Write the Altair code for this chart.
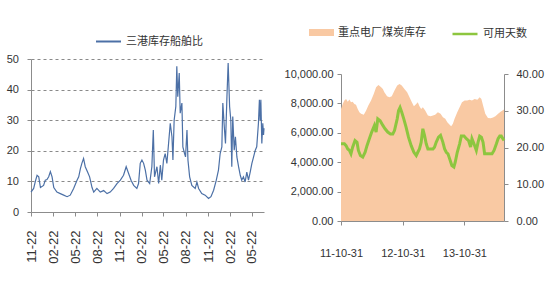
import altair as alt
import pandas as pd

# ---------------- data ----------------
# Left panel: 三港库存船舶比 (day offsets from the first date, values)
ratio_start = "2011-11-22"
ratio_days = [0, 11, 18, 25, 32, 39, 52, 59, 66, 73,
              80, 87, 94, 107, 121, 135, 149, 162, 176, 190,
              197, 204, 210, 217, 224, 234, 242, 252, 259, 272,
              286, 300, 314, 327, 341, 355, 369, 382, 393, 403,
              413, 424, 437, 444, 451, 458, 465, 472, 479, 490,
              499, 505, 510, 520, 527, 534, 540, 547, 554, 561,
              568, 575, 582, 586, 591, 598, 602, 606, 612, 616,
              623, 627, 634, 638, 644, 648, 655, 664, 678, 685,
              692, 705, 719, 733, 743, 754, 765, 774, 781, 788,
              792, 798, 803, 809, 814, 820, 825, 829, 833, 839,
              844, 850, 857, 864, 870, 877, 884, 891, 898, 905,
              912, 919, 926, 932, 939, 943, 946, 949, 953, 957,
              960, 962]
ratio_values = [6.5, 7.7, 10, 12, 11.5, 8, 8.7, 10.4, 10.6, 11.5,
                13.2, 11.5, 8, 6.5, 6, 5.5, 5, 5.5, 7.7, 10.4,
                11.5, 14.2, 15.9, 17.5, 14.8, 13, 11.5, 8, 6.5, 7.7,
                6.5, 7, 6, 6.5, 7.7, 9.3, 10.4, 12, 14.8, 12.6,
                10.4, 8.7, 7.7, 9.3, 15.9, 17, 15.9, 13.7, 10.4, 9.3,
                14.8, 26.8, 11.5, 14.8, 9.3, 15.3, 10.4, 17, 19.1, 15.9,
                22.4, 29, 24.6, 17, 30, 34.5, 47.6, 37.7, 45.4, 32.3,
                35.6, 21.3, 19.1, 18, 26.8, 17, 11.5, 8.7, 7.7, 9.8,
                7.7, 6, 5.5, 4.4, 5, 7.1, 10.4, 13.7, 19.1, 21.3,
                35.6, 27.9, 22.4, 37.7, 48.7, 34.5, 30, 14.8, 31.2, 20.2,
                24.6, 18, 14.8, 12, 10.4, 11.5, 9.8, 13, 10.4, 13,
                15.9, 18, 20.2, 21.3, 29, 36.7, 30, 36.7, 22.4, 29,
                25.2, 27.4]
ratio_name = "三港库存船舶比"
left_ticks = ["2011-11-22", "2012-02-22", "2012-05-22", "2012-08-22",
              "2012-11-22", "2013-02-22", "2013-05-22", "2013-08-22",
              "2013-11-22", "2014-02-22", "2014-05-22"]
left_domain = ["2011-11-22", "2014-07-11"]

# Right panel: 重点电厂煤炭库存 (area, left axis) and 可用天数 (line, right axis)
right_start = "2011-10-31"
stock_name = "重点电厂煤炭库存"
stock_days = [0, 10, 20, 30, 40, 50, 59, 69, 79, 89,
              99, 109, 119, 135, 149, 162, 178, 194, 208, 222,
              238, 248, 257, 273, 287, 301, 317, 333, 347, 360,
              376, 392, 406, 420, 432, 446, 455, 465, 475, 485,
              499, 515, 531, 545, 558, 574, 590, 604, 618, 630,
              644, 653, 663, 673, 689, 703, 717, 733, 748, 762,
              776, 792, 808, 822, 832, 842, 855, 871, 887, 901,
              915, 931, 946, 966]
stock_values = [7620, 7960, 8190, 8300, 8120, 8260, 8080, 8120, 7960, 7900,
                7620, 7400, 7290, 7220, 7510, 7850, 8190, 8640, 9100, 9250,
                9100, 8980, 8760, 8480, 8420, 8480, 8870, 9210, 9320, 9210,
                8980, 8760, 8420, 8080, 7810, 7960, 8080, 7810, 7620, 7740,
                7510, 7170, 7130, 7170, 7220, 7400, 7290, 7060, 6950, 6720,
                6540, 6450, 6610, 6950, 7400, 7740, 8080, 8190, 8190, 8240,
                8190, 8300, 8240, 8420, 8300, 7850, 7290, 7010, 6990, 7040,
                7130, 7290, 7440, 7580]
days_name = "可用天数"
avail_days = [0, 20, 30, 40, 50, 59, 69, 83, 95, 103,
              115, 129, 143, 154, 168, 182, 198, 208, 218, 232,
              248, 261, 277, 293, 307, 317, 333, 341, 350, 360,
              372, 386, 400, 416, 432, 446, 455, 465, 475, 485,
              495, 505, 515, 531, 545, 554, 564, 578, 590, 604,
              614, 624, 634, 644, 657, 669, 677, 689, 703, 713,
              729, 743, 756, 768, 776, 788, 802, 812, 822, 832,
              842, 851, 861, 881, 895, 907, 921, 931, 941, 950,
              966]
avail_values = [21, 21, 20.5, 19.6, 19.2, 18.3, 20.1, 21.9, 21.4, 19.2,
                17.8, 17.4, 18.7, 20.5, 22.4, 24.2, 26, 24.2, 27.8, 27.3,
                26, 25.1, 24.2, 23.7, 23.7, 24.6, 27.8, 30, 30.9, 29.6,
                27.8, 25.5, 22.8, 20.5, 18.7, 17.8, 18.7, 19.6, 21.4, 25.1,
                23.3, 21, 19.6, 19.6, 19.6, 20.1, 21.4, 22.8, 23.3, 21.4,
                19.6, 18.7, 18.3, 16.9, 15.1, 14.7, 16, 18.7, 21, 23.1,
                23.1, 22.4, 21.9, 20.1, 22.4, 21, 19.2, 21.4, 23.1, 22.8,
                21.4, 18.3, 18.3, 18.3, 18.3, 19.2, 21, 22.4, 23.1, 23.1,
                21.9]
right_ticks = ["2011-10-31", "2012-10-31", "2013-10-31"]
right_domain = ["2011-10-31", "2014-06-23"]


def dates(start, offsets):
    return list((pd.Timestamp(start) + pd.to_timedelta(offsets, unit="D")).strftime("%Y-%m-%d"))


def dt(s):
    y, m, d = (int(p) for p in s.split("-"))
    return alt.DateTime(year=y, month=m, date=d, utc=True)


left_df = pd.DataFrame({"date": dates(ratio_start, ratio_days), "value": ratio_values})
stock_df = pd.DataFrame({"date": dates(right_start, stock_days), "value": stock_values})
avail_df = pd.DataFrame({"date": dates(right_start, avail_days), "value": avail_values})

# ---------------- style ----------------
CJK = "Noto Sans CJK SC"
REG = "Liberation Sans, Arial"
TXT = "#333333"
AX = "#8c8c8c"
BLUE = "#4c70a6"
PEACH = "#f9c9a3"
GREEN = "#8dc63f"

# ---------------- left chart ----------------
left = alt.Chart(left_df).mark_line(strokeWidth=1.2, interpolate="linear").encode(
    x=alt.X("date:T",
            scale=alt.Scale(type="utc", domain=[dt(s) for s in left_domain]),
            axis=alt.Axis(title=None, values=[dt(s) for s in left_ticks],
                          labelExpr="utcFormat(datum.value, '%m-%d')",
                          labelAngle=270, labelFont=REG, labelFontSize=13,
                          labelColor=TXT, labelPadding=14, tickSize=4, tickColor=AX,
                          domainColor=AX, grid=False, labelOverlap=False, labelFlush=False)),
    y=alt.Y("value:Q",
            scale=alt.Scale(domain=[0, 50], nice=False),
            axis=alt.Axis(title=None, values=[0, 10, 20, 30, 40, 50], labelFont=REG,
                          labelFontSize=11, labelColor=TXT, labelPadding=8.5, tickSize=4,
                          tickColor=AX, domainColor=AX, grid=True, gridColor="#8a8a8a",
                          gridDash=[3, 3], gridWidth=1)),
    stroke=alt.Stroke("series:N",
                      scale=alt.Scale(domain=[ratio_name], range=[BLUE]),
                      legend=alt.Legend(title=None, orient="none", legendX=64, legendY=-31,
                                        padding=0, symbolType="stroke", symbolSize=625,
                                        symbolStrokeWidth=2, labelFont=CJK, labelFontSize=11,
                                        labelColor=TXT, labelOffset=4)),
).transform_calculate(series=f"'{ratio_name}'").properties(width=233, height=153)

# ---------------- right chart ----------------
x_right = alt.X("date:T",
                scale=alt.Scale(type="utc", domain=[dt(s) for s in right_domain]),
                axis=alt.Axis(title=None, values=[dt(s) for s in right_ticks],
                              labelExpr="utcFormat(datum.value, '%y-%m-%d')",
                              labelAngle=0, labelFont=REG, labelFontSize=11,
                              labelColor=TXT, labelPadding=22, tickSize=4, tickColor=AX,
                              domainColor=AX, grid=False, labelOverlap=False, labelFlush=False))

# legends of the right panel are positioned from the top of its column (left plot top)
area = alt.Chart(stock_df).mark_area(opacity=1, interpolate="linear").encode(
    x=x_right,
    y=alt.Y("value:Q",
            scale=alt.Scale(domain=[0, 10000], nice=False),
            axis=alt.Axis(title=None, orient="left", values=[0, 2000, 4000, 6000, 8000, 10000],
                          format=",.2f", labelFont=REG, labelFontSize=11, labelColor=TXT,
                          labelPadding=4, tickSize=4, tickColor=AX, domainColor=AX, grid=False)),
    fill=alt.Fill("series:N",
                  scale=alt.Scale(domain=[stock_name], range=[PEACH]),
                  legend=alt.Legend(title=None, orient="none", legendX=-32, legendY=-39,
                                    padding=0, symbolType="M-1,-0.28L1,-0.28L1,0.28L-1,0.28Z",
                                    symbolSize=625, symbolStrokeWidth=0, symbolOpacity=1,
                                    labelFont=CJK, labelFontSize=11, labelColor=TXT,
                                    labelOffset=4)),
).transform_calculate(series=f"'{stock_name}'")

line = alt.Chart(avail_df).mark_line(strokeWidth=3, interpolate="linear").encode(
    x=x_right,
    y=alt.Y("value:Q",
            scale=alt.Scale(domain=[0, 40], nice=False),
            axis=alt.Axis(title=None, orient="right", values=[0, 10, 20, 30, 40],
                          format=".2f", labelFont=REG, labelFontSize=11, labelColor=TXT,
                          labelPadding=8, tickSize=4, tickColor=AX, domainColor=AX, grid=False)),
    stroke=alt.Stroke("series:N",
                      scale=alt.Scale(domain=[days_name], range=[GREEN]),
                      legend=alt.Legend(title=None, orient="none", legendX=110, legendY=-39,
                                        padding=0, symbolType="stroke", symbolSize=625,
                                        symbolStrokeWidth=2.5, labelFont=CJK, labelFontSize=11,
                                        labelColor=TXT, labelOffset=4)),
).transform_calculate(series=f"'{days_name}'")

right = alt.layer(area, line).resolve_scale(y="independent").properties(width=163, height=147)

# empty strip above the right panel so its plot sits lower than the left one
spacer = alt.Chart(avail_df).mark_point(opacity=0, size=0).encode(
    x=alt.value(0), y=alt.value(0)
).properties(width=163, height=1)

right_col = alt.vconcat(spacer, right, spacing=8)

chart = alt.hconcat(left, right_col, spacing=17).resolve_scale(
    stroke="independent", fill="independent", x="independent", y="independent"
).resolve_legend(stroke="independent", fill="independent").properties(
    padding={"left": 6, "top": 20, "right": 2, "bottom": 2},
    background="white",
).configure_view(stroke=None)

chart.save("out.html", embed_options={"renderer": "svg", "actions": False})
